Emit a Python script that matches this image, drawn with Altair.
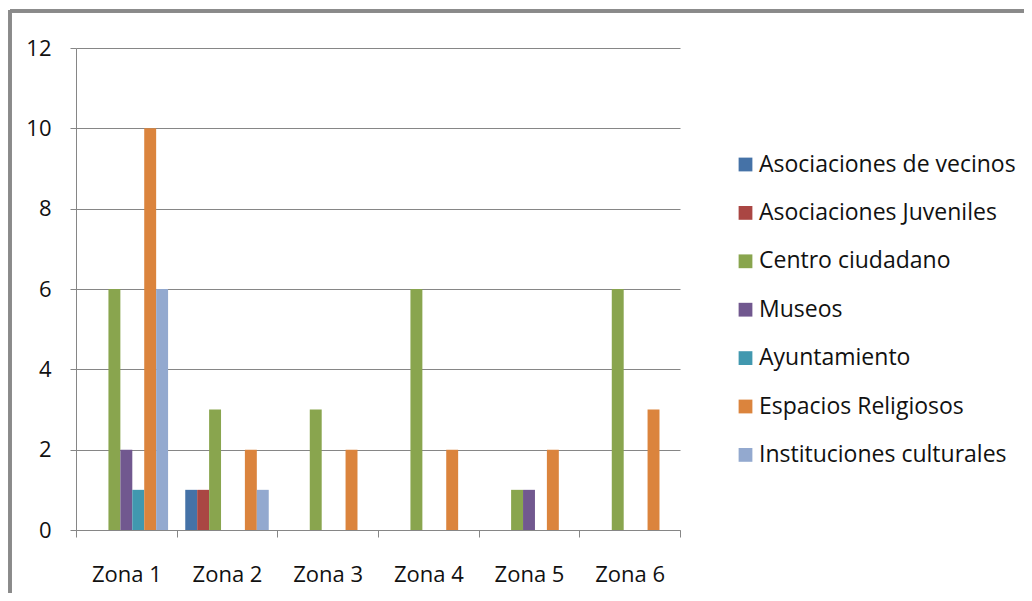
import altair as alt
import pandas as pd

zonas = ["Zona 1", "Zona 2", "Zona 3", "Zona 4", "Zona 5", "Zona 6"]
series = [
    "Asociaciones de vecinos",
    "Asociaciones Juveniles",
    "Centro ciudadano",
    "Museos",
    "Ayuntamiento",
    "Espacios Religiosos",
    "Instituciones culturales",
]
colors = ["#4572A7", "#AA4643", "#89A54E", "#71588F", "#4198AF", "#DB843D", "#93A9CF"]

asoc_vecinos = [0, 1, 0, 0, 0, 0]
asoc_juveniles = [0, 1, 0, 0, 0, 0]
centro_ciudadano = [6, 3, 3, 6, 1, 6]
museos = [2, 0, 0, 0, 1, 0]
ayuntamiento = [1, 0, 0, 0, 0, 0]
espacios_religiosos = [10, 2, 2, 2, 2, 3]
instituciones_culturales = [6, 1, 0, 0, 0, 0]

values = [asoc_vecinos, asoc_juveniles, centro_ciudadano, museos,
          ayuntamiento, espacios_religiosos, instituciones_culturales]

rows = []
for s, vals in zip(series, values):
    for z, v in zip(zonas, vals):
        rows.append({"zona": z, "serie": s, "valor": v})
df = pd.DataFrame(rows)

FONT = "Open Sans"
GRAY = "#868686"
TXT = "#111111"

bars = alt.Chart(df).mark_bar().encode(
    x=alt.X("zona:N", sort=zonas, title=None,
            scale=alt.Scale(paddingInner=0, paddingOuter=0),
            axis=alt.Axis(labelAngle=0, tickBand="extent", tickSize=7,
                          labelPadding=27, labelFontSize=22, labelFont=FONT,
                          labelColor=TXT, domainColor=GRAY, tickColor=GRAY,
                          grid=False)),
    xOffset=alt.XOffset("serie:N", sort=series,
                        scale=alt.Scale(paddingInner=0, paddingOuter=0.72)),
    y=alt.Y("valor:Q", title=None,
            scale=alt.Scale(domain=[0, 12], nice=False),
            axis=alt.Axis(values=[0, 2, 4, 6, 8, 10, 12], tickSize=6,
                          labelPadding=19, labelFontSize=22, labelFont=FONT,
                          labelColor=TXT, domainColor=GRAY, tickColor=GRAY,
                          gridColor=GRAY, grid=True)),
    color=alt.Color("serie:N", sort=series, title=None,
                    scale=alt.Scale(domain=series, range=colors),
                    legend=alt.Legend(orient="none", legendX=658, legendY=105,
                                      symbolType="square", symbolSize=190,
                                      symbolStrokeWidth=0, labelFontSize=23,
                                      labelFont=FONT, labelColor=TXT,
                                      rowPadding=24.4, labelOffset=2,
                                      labelLimit=400)),
)

frame_top = alt.Chart(df).mark_rule(color="#8a8a8a", strokeWidth=2.5).encode(
    x=alt.value(-66), x2=alt.value(960), y=alt.value(-37))
frame_left = alt.Chart(df).mark_rule(color="#8a8a8a", strokeWidth=2.5).encode(
    x=alt.value(-66), y=alt.value(-38), y2=alt.value(560))

chart = alt.layer(bars, frame_top, frame_left).properties(
    width=604, height=482,
    autosize=alt.AutoSizeParams(type="none"),
    padding={"left": 68, "top": 40, "right": 344, "bottom": 63},
    background="white",
).configure_view(stroke=None)

chart.save("out.html", embed_options={"renderer": "svg", "actions": False})
